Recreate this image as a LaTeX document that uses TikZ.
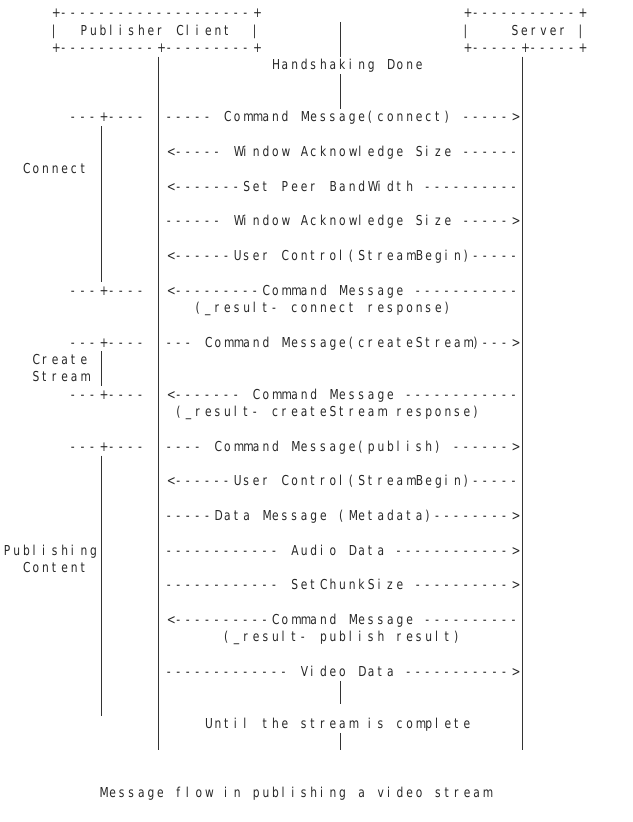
\documentclass[tikz,border=0pt]{standalone}
\usepackage{fontspec}
\newfontfamily\asciifont[FakeStretch=0.78]{DejaVu Sans}
\newlength\cellw
\setlength\cellw{9.58pt}
% one glyph per fixed cell, like the plain-text figure
\ExplSyntaxOn
\NewDocumentCommand\asciirow{m}
  {\str_map_inline:nn {#1} {\makebox[\cellw][l]{##1}}}
\ExplSyntaxOff

\begin{document}
\begin{tikzpicture}[
  x=9.58pt, y=-17.34pt,
  txt/.style={anchor=base west, inner sep=0pt, text=black!85,
    font={\asciifont\fontsize{13.7pt}{16pt}\selectfont}},
  msg/.style={txt},
  lbl/.style={txt},
  life/.style={black!80, line width=0.7pt}
]
\useasboundingbox (-3.7pt,17.66pt) rectangle (628.3pt,-804.34pt);

% === Boxes ===
\node[txt] (pubTop) at (5,0) {\asciirow{+--------------------+}};
\node[txt] (pubL)   at (5,1) {\asciirow{|}};
\node[txt] (pub)    at (8,1) {\asciirow{Publisher Client}};
\node[txt] (pubR)   at (26,1) {\asciirow{|}};
\node[txt] (pubBot) at (5,2) {\asciirow{+----------+---------+}};

\node[txt] (srvTop) at (48,0) {\asciirow{+-----------+}};
\node[txt] (srvL)   at (48,1) {\asciirow{|}};
\node[txt] (srv)    at (53,1) {\asciirow{Server}};
\node[txt] (srvR)   at (60,1) {\asciirow{|}};
\node[txt] (srvBot) at (48,2) {\asciirow{+-----+-----+}};

\node[txt] (hand) at (28,3) {\asciirow{Handshaking Done}};

% === Lifelines ===
\coordinate (pubA) at (16.16,2.25);
\coordinate (pubB) at (16.16,42.25);
\coordinate (srvA) at (54.16,2.25);
\coordinate (srvB) at (54.16,42.25);
\draw[life] (pubA) -- (pubB);
\draw[life] (srvA) -- (srvB);

% middle line, broken by the text rows
\coordinate (midA) at (35.16,0.25);
\coordinate (midB) at (35.16,2.25);
\coordinate (midC) at (35.16,3.25);
\coordinate (midD) at (35.16,5.25);
\coordinate (midE) at (35.16,38.25);
\coordinate (midF) at (35.16,39.6);
\coordinate (midG) at (35.16,41.25);
\coordinate (midH) at (35.16,42.25);
\draw[life] (midA) -- (midB);
\draw[life] (midC) -- (midD);
\draw[life] (midE) -- (midF);
\draw[life] (midG) -- (midH);

% === Phase brackets ===
\foreach \r in {6,16,19,22,25}
  \node[txt] (tick\r) at (7,\r) {\asciirow{---+----}};

\coordinate (conA) at (10.16,6.25);
\coordinate (conB) at (10.16,15.25);
\coordinate (creA) at (10.16,19.25);
\coordinate (creB) at (10.16,21.25);
\coordinate (pbA)  at (10.16,25.25);
\coordinate (pbB)  at (10.16,40.25);
\draw[life] (conA) -- (conB);
\draw[life] (creA) -- (creB);
\draw[life] (pbA) -- (pbB);

\node[lbl] (connect) at (2,9)  {\asciirow{Connect}};
\node[lbl] (create)  at (3,20) {\asciirow{Create}};
\node[lbl] (stream)  at (3,21) {\asciirow{Stream}};
\node[lbl] (publ)    at (0,31) {\asciirow{Publishing}};
\node[lbl] (content) at (2,32) {\asciirow{Content}};

% === Messages ===
\node[msg] (m1)  at (17,6)  {\asciirow{----- Command Message(connect) ----->}};
\node[msg] (m2)  at (17,8)  {\asciirow{<----- Window Acknowledge Size ------}};
\node[msg] (m3)  at (17,10) {\asciirow{<-------Set Peer BandWidth ----------}};
\node[msg] (m4)  at (17,12) {\asciirow{------ Window Acknowledge Size ----->}};
\node[msg] (m5)  at (17,14) {\asciirow{<------User Control(StreamBegin)-----}};
\node[msg] (m6)  at (17,16) {\asciirow{<---------Command Message -----------}};
\node[msg] (m6b) at (20,17) {\asciirow{(_result- connect response)}};
\node[msg] (m7)  at (17,19) {\asciirow{--- Command Message(createStream)--->}};
\node[msg] (m8)  at (17,22) {\asciirow{<------- Command Message ------------}};
\node[msg] (m8b) at (18,23) {\asciirow{(_result- createStream response)}};
\node[msg] (m9)  at (17,25) {\asciirow{---- Command Message(publish) ------>}};
\node[msg] (m10) at (17,27) {\asciirow{<------User Control(StreamBegin)-----}};
\node[msg] (m11) at (17,29) {\asciirow{-----Data Message (Metadata)-------->}};
\node[msg] (m12) at (17,31) {\asciirow{------------ Audio Data ------------>}};
\node[msg] (m13) at (17,33) {\asciirow{------------ SetChunkSize ---------->}};
\node[msg] (m14) at (17,35) {\asciirow{<----------Command Message ----------}};
\node[msg] (m14b) at (23,36) {\asciirow{(_result- publish result)}};
\node[msg] (m15) at (17,38) {\asciirow{------------- Video Data ----------->}};

\node[msg] (until) at (21,41) {\asciirow{Until the stream is complete}};
\node[lbl] (caption) at (10,45) {\asciirow{Message flow in publishing a video stream}};
\end{tikzpicture}
\end{document}
